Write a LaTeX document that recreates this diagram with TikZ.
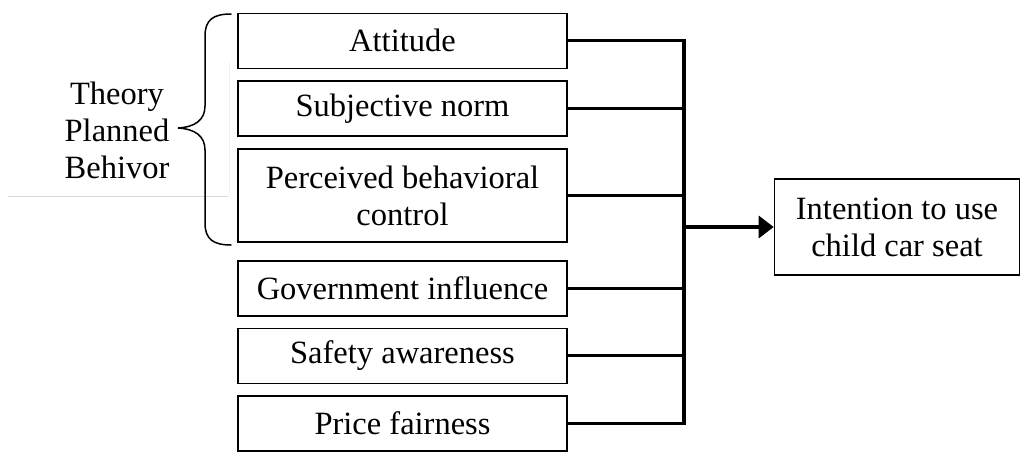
\documentclass[tikz,border=0pt]{standalone}
\usepackage{fontspec}
\setmainfont{Liberation Serif}
\usetikzlibrary{arrows.meta}
\begin{document}
\begin{tikzpicture}[x=1pt,y=-1pt,
  txt/.style={align=center, font=\fontsize{32.5}{37}\selectfont},
  factor/.style={draw, line width=1.6pt, minimum width=329pt, inner sep=0pt, txt},
  outcome/.style={factor, minimum width=245pt, minimum height=96pt},
  link/.style={line width=3.2pt},
  brace/.style={line width=1.5pt, line cap=round},
  faint/.style={line width=0.8pt}]
\useasboundingbox (0,0) rectangle (1022,451);

% faint guide lines behind the bracket
\draw[faint, gray!30] (8,196) -- (228,196);
\draw[faint, gray!12] (229,62) -- (229,196);

% predictor boxes
\node[factor, minimum height=55pt] (att)  at (402.5,40.8)  {Attitude};
\node[factor, minimum height=55pt] (subj) at (402.5,108.5) {Subjective norm};
\node[factor, minimum height=93pt] (pbc)  at (402.5,195.5) {Perceived behavioral\\control};
\node[factor, minimum height=55pt] (gov)  at (402.5,288.3) {Government influence};
\node[factor, minimum height=55pt] (safe) at (402.5,355.8) {Safety awareness};
\node[factor, minimum height=55pt] (price) at (402.5,423.3) {Price fairness};

% outcome box
\node[outcome] (intent) at (897,227) {Intention to use\\child car seat};

% group label with curly bracket
\node[txt] (tpb) at (117,130) {Theory\\Planned\\Behivor};
\draw[brace] (231,14) .. controls (213,14) and (205,20) .. (205,36)
  -- (205,106) .. controls (205,120) and (195,127) .. (178,128)
  .. controls (195,129) and (205,136) .. (205,150)
  -- (205,223) .. controls (205,239) and (213,245) .. (231,245);

% collector bus
\coordinate (busx) at (684,0);
\foreach \n in {att,subj,pbc,gov,safe,price}
  \draw[link] (\n.east) -- (\n.east -| busx);
\draw[link, line cap=rect] (att.east -| busx) -- (price.east -| busx);
\draw[link, -{Triangle[length=15pt,width=22pt]}] (intent.west -| busx) -- (intent.west);
\end{tikzpicture}
\end{document}
